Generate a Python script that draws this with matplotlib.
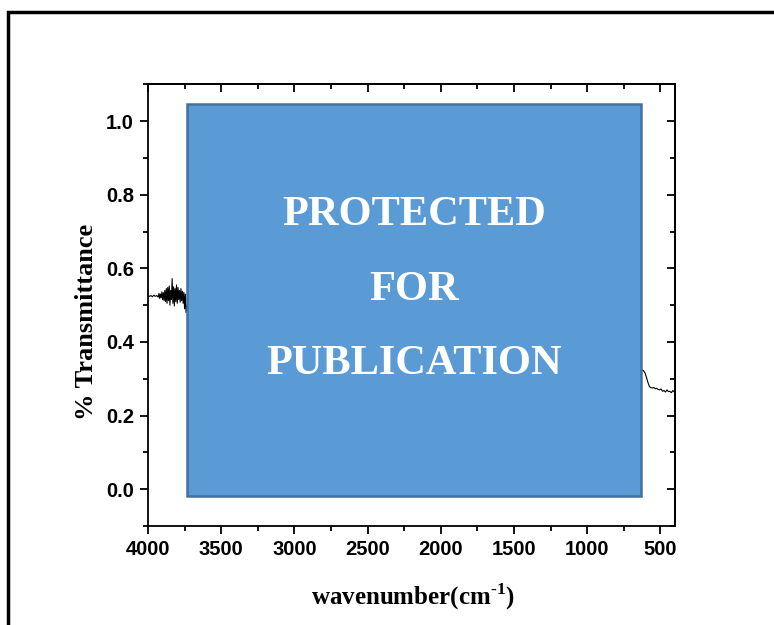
import matplotlib
matplotlib.use('Agg')
import matplotlib.pyplot as plt
from matplotlib.patches import Rectangle
from matplotlib.ticker import MultipleLocator

#--- DATA (visible parts only) ---
wn_high = [4000, 3990, 3980, 3970, 3960, 3950, 3940, 3930, 3925, 3920, 3915, 3910,
           3905, 3900, 3895, 3890, 3885, 3880, 3875, 3870, 3865, 3860, 3855, 3850,
           3845, 3840, 3835, 3830, 3825, 3820, 3815, 3810, 3805, 3800, 3795, 3790,
           3785, 3780, 3775, 3770, 3765, 3760, 3755, 3750, 3745, 3740, 3733]
tr_high = [0.525, 0.524, 0.526, 0.523, 0.527, 0.524, 0.526, 0.522, 0.532, 0.518, 0.530, 0.520,
           0.536, 0.515, 0.534, 0.512, 0.540, 0.510, 0.545, 0.505, 0.548, 0.512, 0.552, 0.500,
           0.540, 0.515, 0.572, 0.505, 0.550, 0.498, 0.545, 0.510, 0.555, 0.505, 0.548, 0.515,
           0.540, 0.508, 0.545, 0.512, 0.538, 0.505, 0.535, 0.490, 0.530, 0.480, 0.500]

wn_low = [637, 625, 615, 605, 595, 585, 575, 565, 555, 545, 535, 525, 515, 505,
          495, 485, 475, 465, 455, 445, 435, 425, 415, 405]
tr_low = [0.326, 0.324, 0.322, 0.316, 0.304, 0.290, 0.279, 0.276, 0.275, 0.276, 0.273, 0.274,
          0.271, 0.270, 0.272, 0.266, 0.268, 0.264, 0.270, 0.265, 0.266, 0.262, 0.268, 0.264]

x_ticks = [4000, 3500, 3000, 2500, 2000, 1500, 1000, 500]
y_ticks = [0.0, 0.2, 0.4, 0.6, 0.8, 1.0]
stamp_lines = ['PROTECTED', 'FOR', 'PUBLICATION']

#--- FONTS ---
plt.rcParams['mathtext.fontset'] = 'custom'
plt.rcParams['mathtext.rm'] = 'Liberation Serif:bold'
plt.rcParams['mathtext.bf'] = 'Liberation Serif:bold'

fig = plt.figure(figsize=(7.74, 6.25), dpi=100)
ax = fig.add_axes([0.1912, 0.1584, 0.6809, 0.7067])

ax.plot(wn_high, tr_high, color='black', lw=0.8)
ax.plot(wn_low, tr_low, color='black', lw=0.8)

ax.set_xlim(4000, 400)
ax.set_ylim(-0.1, 1.1)
ax.set_xticks(x_ticks)
ax.set_yticks(y_ticks)
ax.set_xticklabels([str(t) for t in x_ticks])
ax.set_yticklabels([f'{t:.1f}' for t in y_ticks])
ax.xaxis.set_minor_locator(MultipleLocator(250))
ax.yaxis.set_minor_locator(MultipleLocator(0.1))

for lab in ax.get_xticklabels() + ax.get_yticklabels():
    lab.set_family('Liberation Sans')
    lab.set_weight('bold')
    lab.set_size(14.5)

ax.tick_params(which='major', direction='out', length=6, width=1.3, pad=4)
ax.tick_params(which='minor', direction='out', length=3.5, width=1.3)
for sp in ax.spines.values():
    sp.set_linewidth(1.3)

# mirrored inward ticks on top and right
top = ax.secondary_xaxis('top')
top.set_xticks(x_ticks)
top.xaxis.set_minor_locator(MultipleLocator(250))
top.tick_params(which='major', direction='in', length=6, width=1.3, labeltop=False)
top.tick_params(which='minor', direction='in', length=3.5, width=1.3)
right = ax.secondary_yaxis('right')
right.set_yticks(y_ticks)
right.yaxis.set_minor_locator(MultipleLocator(0.1))
right.tick_params(which='major', direction='in', length=6, width=1.3, labelright=False)
right.tick_params(which='minor', direction='in', length=3.5, width=1.3)
top.spines['top'].set_linewidth(1.3)
right.spines['right'].set_linewidth(1.3)

ax.set_xlabel(r'wavenumber(cm$^{\text{-1}}$)', family='Liberation Serif',
              weight='bold', size=18)
ax.set_ylabel('% Transmittance', family='Liberation Serif', weight='bold', size=19)
ax.xaxis.set_label_coords(0.503, -0.161)
ax.yaxis.set_label_coords(-0.116, 0.462)
ax.xaxis.label.set_va('center')
ax.yaxis.label.set_va('center')

#--- PROTECTED STAMP ---
ax.add_patch(Rectangle((0.074, 0.067), 0.862, 0.888, transform=ax.transAxes,
                       facecolor='#5B9BD5', edgecolor='#41719C', lw=1.8, zorder=5))
for txt, yy in zip(stamp_lines, [0.704, 0.534, 0.367]):
    ax.text(0.505, yy, txt, transform=ax.transAxes, ha='center', va='center',
            family='Liberation Serif', weight='bold', size=30.5, color='white', zorder=6)

#--- OUTER FRAME ---
fig.patches.append(Rectangle((0.0097, -0.2), 1.2, 1.1816, transform=fig.transFigure,
                             facecolor='none', edgecolor='black', lw=2.5))

plt.savefig('out.png', dpi=100)
